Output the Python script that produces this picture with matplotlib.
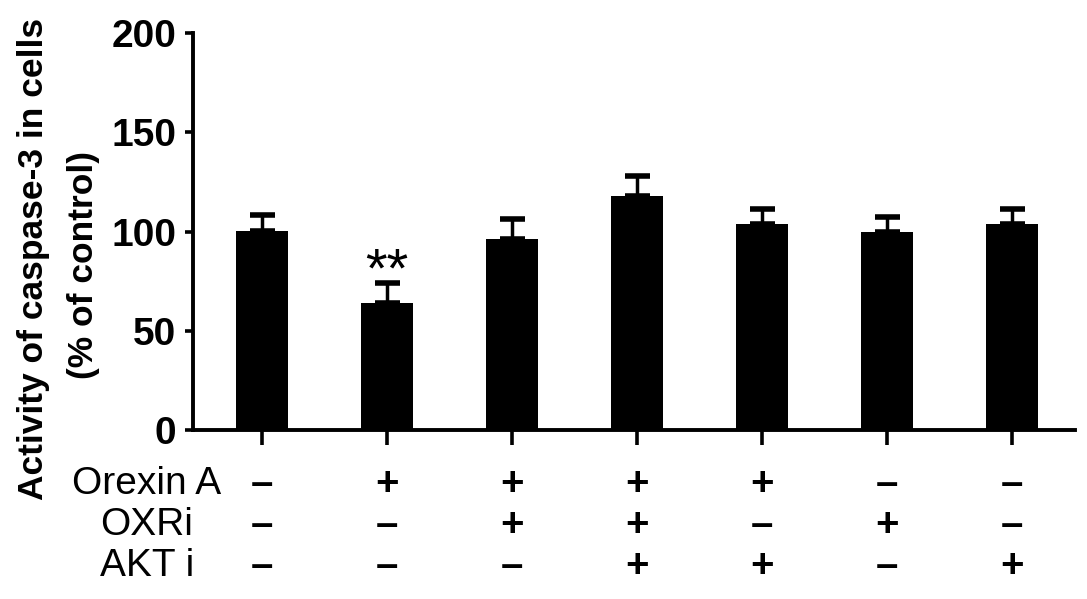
import matplotlib
matplotlib.use("Agg")
import matplotlib.pyplot as plt
import numpy as np

# Data
values = [100.5, 64.0, 96.0, 118.0, 104.0, 100.0, 104.0]
errors = [8.0, 10.0, 10.5, 10.0, 7.5, 7.5, 7.5]
yticks = [0, 50, 100, 150, 200]
ylabel_lines = ["Activity of caspase-3 in cells", "(% of control)"]
row_labels = ["Orexin A", "OXRi", "AKT i"]
orexin = ["-", "+", "+", "+", "+", "-", "-"]
oxri = ["-", "-", "+", "+", "-", "+", "-"]
akti = ["-", "-", "-", "+", "+", "-", "+"]
sig_index = 1
sig_text = "**"

plt.rcParams['font.family'] = ['Liberation Sans', 'DejaVu Sans']

fig = plt.figure(figsize=(10.87, 5.99), dpi=100)
ax = fig.add_axes([193/1087, 1 - 430/599, (1075-193)/1087, (430-33)/599])

x = np.arange(len(values))
ax.bar(x, values, width=0.41, color='black', zorder=2)
ax.errorbar(x, values, yerr=[np.zeros(len(values)), errors], fmt='none',
            ecolor='black', elinewidth=2.5, capsize=9, capthick=4, zorder=1)

ax.set_ylim(0, 200)
ax.set_xlim(-0.552, 6.504)
ax.set_yticks(yticks)
ax.set_yticklabels([str(t) for t in yticks], fontsize=28, fontweight='bold')
ax.set_xticks(x)
ax.set_xticklabels([])

for s in ['top', 'right']:
    ax.spines[s].set_visible(False)
for s in ['left', 'bottom']:
    ax.spines[s].set_linewidth(2.8)
ax.tick_params(axis='y', direction='out', length=6, width=2.6, pad=6)
ax.tick_params(axis='x', direction='out', length=11, width=2.6)

# significance
ax.text(sig_index, values[sig_index] + errors[sig_index] - 7.5, sig_text,
        ha='center', va='bottom', fontsize=40)

# y label (two lines)
fig.text(34/1087, 1 - 259/599, ylabel_lines[0], rotation=90, ha='center',
         va='center', fontsize=25.5, fontweight='bold')
fig.text(83/1087, 1 - 265/599, ylabel_lines[1], rotation=90, ha='center',
         va='center', fontsize=25.5, fontweight='bold')

# treatment table
trans = ax.get_xaxis_transform()
row_y = [-0.136, -0.239, -0.3426]
rows = [orexin, oxri, akti]
sym = {"+": "+", "-": "\u2013"}
for label, yy, row in zip(row_labels, row_y, rows):
    ax.text(-0.92, yy, label, transform=trans, ha='center', va='center',
            fontsize=28, clip_on=False)
    for i, s in enumerate(row):
        ax.text(i, yy, sym[s], transform=trans, ha='center', va='center',
                fontsize=29, fontweight='bold', clip_on=False)

fig.savefig("out.png", dpi=100)
